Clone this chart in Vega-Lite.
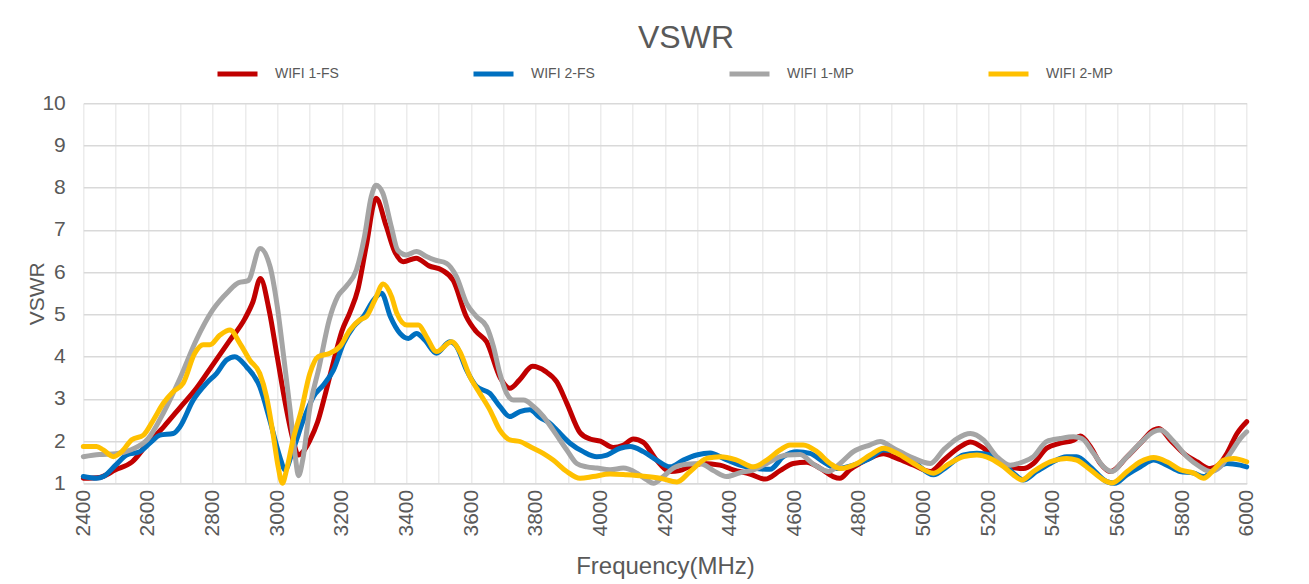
{
  "$schema": "https://vega.github.io/schema/vega-lite/v6.json",
  "width": 1163.4,
  "height": 380,
  "autosize": {"type": "none"},
  "padding": {"left": 83.3, "top": 103.3, "right": 62.3, "bottom": 100.7},
  "background": "white",
  "config": {
    "font": "Liberation Sans",
    "view": {"stroke": null}
  },
  "title": {"text": "VSWR", "fontSize": 32, "fontWeight": "normal", "color": "#595959", "anchor": "middle", "dx": 21, "offset": -4},
  "encoding": {
    "x": {"field": "f", "type": "quantitative",
      "scale": {"domain": [2400, 6000], "nice": false, "zero": false},
      "axis": {"values": [2400,2500,2600,2700,2800,2900,3000,3100,3200,3300,3400,3500,3600,3700,3800,3900,4000,4100,4200,4300,4400,4500,4600,4700,4800,4900,5000,5100,5200,5300,5400,5500,5600,5700,5800,5900,6000],
        "labelExpr": "datum.value % 200 === 0 ? datum.label : ''", "format": "d",
        "labelAngle": -90, "labelFontSize": 21, "labelColor": "#595959", "labelPadding": 6,
        "title": "Frequency(MHz)", "titleFontSize": 24, "titleFontWeight": "normal", "titleColor": "#595959", "titlePadding": 18,
        "grid": true, "gridColor": "#ececec", "gridWidth": 1.5, "ticks": false,
        "domainColor": "#d9d9d9", "domainWidth": 1.5}},
    "y": {"field": "v", "type": "quantitative",
      "scale": {"domain": [1, 10], "nice": false, "zero": false},
      "axis": {"values": [1,2,3,4,5,6,7,8,9,10],
        "labelFontSize": 21, "labelColor": "#595959", "labelPadding": 18,
        "title": "VSWR", "titleFontSize": 21, "titleFontWeight": "normal", "titleColor": "#595959", "titlePadding": -6,
        "grid": true, "gridColor": "#d9d9d9", "gridWidth": 1.5, "ticks": false, "domain": false}}
  },
  "layer": [
    {
      "data": {"values": [
        {"f":2400,"v":1.12},{"f":2450,"v":1.14},{"f":2500,"v":1.32},{"f":2550,"v":1.5},{"f":2600,"v":1.95},{"f":2650,"v":2.35},{"f":2700,"v":2.8},{"f":2750,"v":3.25},{"f":2800,"v":3.8},{"f":2850,"v":4.35},{"f":2900,"v":4.9},{"f":2925,"v":5.3},{"f":2948,"v":5.85},{"f":2975,"v":5.1},{"f":3000,"v":4.0},{"f":3025,"v":2.9},{"f":3050,"v":2.0},{"f":3065,"v":1.67},{"f":3080,"v":1.75},{"f":3100,"v":2.0},{"f":3125,"v":2.45},{"f":3150,"v":3.15},{"f":3175,"v":3.9},{"f":3200,"v":4.6},{"f":3225,"v":5.05},{"f":3250,"v":5.6},{"f":3275,"v":6.6},{"f":3306,"v":7.75},{"f":3337,"v":7.1},{"f":3363,"v":6.5},{"f":3390,"v":6.25},{"f":3430,"v":6.33},{"f":3470,"v":6.15},{"f":3510,"v":6.05},{"f":3545,"v":5.8},{"f":3585,"v":4.95},{"f":3615,"v":4.6},{"f":3648,"v":4.35},{"f":3690,"v":3.5},{"f":3720,"v":3.25},{"f":3750,"v":3.45},{"f":3790,"v":3.77},{"f":3830,"v":3.65},{"f":3865,"v":3.4},{"f":3896,"v":2.9},{"f":3937,"v":2.2},{"f":3968,"v":2.05},{"f":4000,"v":2.0},{"f":4040,"v":1.85},{"f":4070,"v":1.9},{"f":4102,"v":2.05},{"f":4133,"v":1.97},{"f":4174,"v":1.55},{"f":4216,"v":1.28},{"f":4245,"v":1.3},{"f":4277,"v":1.4},{"f":4318,"v":1.47},{"f":4370,"v":1.43},{"f":4411,"v":1.32},{"f":4463,"v":1.22},{"f":4510,"v":1.1},{"f":4556,"v":1.3},{"f":4597,"v":1.47},{"f":4638,"v":1.5},{"f":4679,"v":1.36},{"f":4720,"v":1.16},{"f":4741,"v":1.12},{"f":4772,"v":1.32},{"f":4803,"v":1.47},{"f":4835,"v":1.6},{"f":4876,"v":1.7},{"f":4918,"v":1.59},{"f":4970,"v":1.43},{"f":5021,"v":1.28},{"f":5062,"v":1.55},{"f":5114,"v":1.87},{"f":5145,"v":1.98},{"f":5186,"v":1.83},{"f":5227,"v":1.55},{"f":5269,"v":1.39},{"f":5309,"v":1.35},{"f":5340,"v":1.47},{"f":5381,"v":1.83},{"f":5423,"v":1.95},{"f":5464,"v":2.02},{"f":5485,"v":2.12},{"f":5516,"v":1.87},{"f":5547,"v":1.47},{"f":5578,"v":1.28},{"f":5630,"v":1.63},{"f":5671,"v":1.95},{"f":5712,"v":2.26},{"f":5728,"v":2.3},{"f":5764,"v":2.02},{"f":5805,"v":1.71},{"f":5846,"v":1.51},{"f":5887,"v":1.35},{"f":5915,"v":1.45},{"f":5939,"v":1.71},{"f":5970,"v":2.18},{"f":6000,"v":2.46}
      ]},
      "mark": {"type": "line", "interpolate": "monotone", "strokeWidth": 5, "strokeCap": "round", "strokeJoin": "round"},
      "encoding": {"color": {"datum": "WIFI 1-FS", "type": "nominal",
        "scale": {"domain": ["WIFI 1-FS", "WIFI 2-FS", "WIFI 1-MP", "WIFI 2-MP"], "range": ["#C00000", "#0070C0", "#A5A5A5", "#FFC000"]},
        "legend": {"title": null, "orient": "none", "legendX": 131.7, "legendY": -52, "direction": "horizontal", "columns": 4, "columnPadding": 124,
          "symbolType": "stroke", "symbolSize": 1600, "symbolStrokeWidth": 5, "labelFontSize": 14, "labelColor": "#595959", "labelOffset": 15}}}
    },
    {
      "data": {"values": [
        {"f":2400,"v":1.16},{"f":2441,"v":1.12},{"f":2462,"v":1.16},{"f":2500,"v":1.43},{"f":2534,"v":1.67},{"f":2575,"v":1.75},{"f":2606,"v":1.95},{"f":2637,"v":2.14},{"f":2678,"v":2.18},{"f":2699,"v":2.34},{"f":2740,"v":2.97},{"f":2781,"v":3.37},{"f":2812,"v":3.6},{"f":2843,"v":3.92},{"f":2869,"v":4.0},{"f":2905,"v":3.76},{"f":2946,"v":3.29},{"f":2977,"v":2.5},{"f":3008,"v":1.63},{"f":3024,"v":1.32},{"f":3049,"v":1.79},{"f":3081,"v":2.5},{"f":3112,"v":3.05},{"f":3143,"v":3.33},{"f":3174,"v":3.68},{"f":3205,"v":4.31},{"f":3236,"v":4.71},{"f":3267,"v":4.95},{"f":3298,"v":5.34},{"f":3323,"v":5.5},{"f":3350,"v":4.95},{"f":3380,"v":4.55},{"f":3406,"v":4.43},{"f":3431,"v":4.55},{"f":3457,"v":4.39},{"f":3493,"v":4.08},{"f":3534,"v":4.35},{"f":3555,"v":4.24},{"f":3586,"v":3.68},{"f":3617,"v":3.29},{"f":3658,"v":3.13},{"f":3689,"v":2.82},{"f":3720,"v":2.58},{"f":3751,"v":2.7},{"f":3782,"v":2.74},{"f":3813,"v":2.56},{"f":3844,"v":2.42},{"f":3865,"v":2.26},{"f":3906,"v":1.95},{"f":3947,"v":1.75},{"f":3989,"v":1.63},{"f":4020,"v":1.67},{"f":4061,"v":1.83},{"f":4092,"v":1.87},{"f":4133,"v":1.75},{"f":4174,"v":1.55},{"f":4216,"v":1.39},{"f":4257,"v":1.55},{"f":4298,"v":1.67},{"f":4340,"v":1.72},{"f":4381,"v":1.59},{"f":4432,"v":1.43},{"f":4473,"v":1.36},{"f":4525,"v":1.33},{"f":4566,"v":1.63},{"f":4608,"v":1.75},{"f":4649,"v":1.71},{"f":4690,"v":1.51},{"f":4732,"v":1.35},{"f":4783,"v":1.43},{"f":4835,"v":1.59},{"f":4876,"v":1.79},{"f":4918,"v":1.75},{"f":4970,"v":1.51},{"f":5031,"v":1.2},{"f":5072,"v":1.39},{"f":5124,"v":1.67},{"f":5165,"v":1.71},{"f":5206,"v":1.67},{"f":5248,"v":1.45},{"f":5278,"v":1.24},{"f":5309,"v":1.08},{"f":5350,"v":1.28},{"f":5392,"v":1.47},{"f":5443,"v":1.63},{"f":5474,"v":1.63},{"f":5516,"v":1.39},{"f":5567,"v":1.04},{"f":5592,"v":1.0},{"f":5629,"v":1.2},{"f":5671,"v":1.39},{"f":5712,"v":1.55},{"f":5753,"v":1.43},{"f":5794,"v":1.28},{"f":5836,"v":1.24},{"f":5867,"v":1.16},{"f":5898,"v":1.32},{"f":5939,"v":1.47},{"f":5980,"v":1.43},{"f":6000,"v":1.39}
      ]},
      "mark": {"type": "line", "interpolate": "monotone", "strokeWidth": 5, "strokeCap": "round", "strokeJoin": "round"},
      "encoding": {"color": {"datum": "WIFI 2-FS", "type": "nominal"}}
    },
    {
      "data": {"values": [
        {"f":2400,"v":1.63},{"f":2450,"v":1.68},{"f":2500,"v":1.7},{"f":2550,"v":1.8},{"f":2600,"v":2.05},{"f":2650,"v":2.7},{"f":2700,"v":3.5},{"f":2750,"v":4.4},{"f":2800,"v":5.1},{"f":2850,"v":5.55},{"f":2880,"v":5.75},{"f":2910,"v":5.8},{"f":2947,"v":6.56},{"f":2978,"v":6.13},{"f":3000,"v":5.2},{"f":3020,"v":4.0},{"f":3040,"v":2.74},{"f":3056,"v":1.63},{"f":3066,"v":1.18},{"f":3080,"v":1.6},{"f":3100,"v":2.74},{"f":3130,"v":3.76},{"f":3161,"v":4.87},{"f":3187,"v":5.42},{"f":3213,"v":5.66},{"f":3245,"v":6.05},{"f":3270,"v":6.84},{"f":3291,"v":7.79},{"f":3306,"v":8.06},{"f":3327,"v":7.87},{"f":3353,"v":7.08},{"f":3373,"v":6.52},{"f":3399,"v":6.41},{"f":3431,"v":6.49},{"f":3462,"v":6.37},{"f":3487,"v":6.29},{"f":3524,"v":6.21},{"f":3555,"v":5.89},{"f":3586,"v":5.26},{"f":3617,"v":4.95},{"f":3648,"v":4.71},{"f":3669,"v":4.24},{"f":3689,"v":3.6},{"f":3710,"v":3.13},{"f":3731,"v":2.97},{"f":3762,"v":2.97},{"f":3793,"v":2.82},{"f":3824,"v":2.58},{"f":3854,"v":2.26},{"f":3896,"v":1.79},{"f":3927,"v":1.47},{"f":3958,"v":1.39},{"f":3989,"v":1.36},{"f":4030,"v":1.32},{"f":4071,"v":1.36},{"f":4113,"v":1.24},{"f":4144,"v":1.08},{"f":4164,"v":1.0},{"f":4195,"v":1.16},{"f":4226,"v":1.36},{"f":4267,"v":1.45},{"f":4309,"v":1.47},{"f":4350,"v":1.3},{"f":4391,"v":1.16},{"f":4432,"v":1.25},{"f":4474,"v":1.32},{"f":4515,"v":1.47},{"f":4556,"v":1.63},{"f":4577,"v":1.67},{"f":4618,"v":1.68},{"f":4660,"v":1.45},{"f":4706,"v":1.28},{"f":4742,"v":1.47},{"f":4783,"v":1.75},{"f":4835,"v":1.91},{"f":4866,"v":1.99},{"f":4907,"v":1.83},{"f":4959,"v":1.63},{"f":5021,"v":1.47},{"f":5062,"v":1.79},{"f":5104,"v":2.06},{"f":5145,"v":2.18},{"f":5186,"v":2.02},{"f":5227,"v":1.63},{"f":5268,"v":1.43},{"f":5309,"v":1.51},{"f":5340,"v":1.63},{"f":5381,"v":1.99},{"f":5423,"v":2.06},{"f":5464,"v":2.1},{"f":5490,"v":2.06},{"f":5526,"v":1.71},{"f":5557,"v":1.39},{"f":5583,"v":1.28},{"f":5620,"v":1.55},{"f":5671,"v":1.95},{"f":5712,"v":2.22},{"f":5733,"v":2.26},{"f":5774,"v":1.99},{"f":5815,"v":1.63},{"f":5856,"v":1.39},{"f":5887,"v":1.28},{"f":5918,"v":1.39},{"f":5949,"v":1.71},{"f":5980,"v":2.06},{"f":6000,"v":2.22}
      ]},
      "mark": {"type": "line", "interpolate": "monotone", "strokeWidth": 5, "strokeCap": "round", "strokeJoin": "round"},
      "encoding": {"color": {"datum": "WIFI 1-MP", "type": "nominal"}}
    },
    {
      "data": {"values": [
        {"f":2400,"v":1.87},{"f":2441,"v":1.87},{"f":2462,"v":1.79},{"f":2493,"v":1.63},{"f":2519,"v":1.75},{"f":2550,"v":2.03},{"f":2586,"v":2.14},{"f":2617,"v":2.5},{"f":2647,"v":2.89},{"f":2678,"v":3.17},{"f":2709,"v":3.37},{"f":2745,"v":4.08},{"f":2771,"v":4.28},{"f":2792,"v":4.28},{"f":2823,"v":4.51},{"f":2854,"v":4.63},{"f":2885,"v":4.31},{"f":2915,"v":3.92},{"f":2946,"v":3.6},{"f":2967,"v":3.05},{"f":2987,"v":2.18},{"f":3003,"v":1.39},{"f":3016,"v":1.0},{"f":3029,"v":1.32},{"f":3049,"v":2.03},{"f":3075,"v":2.74},{"f":3101,"v":3.6},{"f":3127,"v":4.0},{"f":3163,"v":4.08},{"f":3194,"v":4.24},{"f":3225,"v":4.63},{"f":3256,"v":4.87},{"f":3276,"v":4.95},{"f":3302,"v":5.34},{"f":3328,"v":5.72},{"f":3354,"v":5.42},{"f":3370,"v":5.03},{"f":3401,"v":4.75},{"f":3437,"v":4.75},{"f":3462,"v":4.47},{"f":3493,"v":4.12},{"f":3540,"v":4.35},{"f":3565,"v":4.12},{"f":3596,"v":3.53},{"f":3627,"v":3.13},{"f":3658,"v":2.74},{"f":3689,"v":2.26},{"f":3720,"v":2.03},{"f":3751,"v":1.99},{"f":3782,"v":1.87},{"f":3823,"v":1.71},{"f":3854,"v":1.55},{"f":3896,"v":1.28},{"f":3937,"v":1.12},{"f":3978,"v":1.16},{"f":4030,"v":1.22},{"f":4082,"v":1.2},{"f":4133,"v":1.17},{"f":4185,"v":1.12},{"f":4237,"v":1.03},{"f":4278,"v":1.28},{"f":4329,"v":1.59},{"f":4371,"v":1.63},{"f":4422,"v":1.55},{"f":4474,"v":1.39},{"f":4515,"v":1.55},{"f":4556,"v":1.79},{"f":4587,"v":1.91},{"f":4628,"v":1.91},{"f":4670,"v":1.75},{"f":4711,"v":1.47},{"f":4742,"v":1.35},{"f":4794,"v":1.47},{"f":4835,"v":1.67},{"f":4876,"v":1.83},{"f":4918,"v":1.71},{"f":4970,"v":1.47},{"f":5031,"v":1.24},{"f":5072,"v":1.43},{"f":5124,"v":1.63},{"f":5165,"v":1.67},{"f":5206,"v":1.59},{"f":5248,"v":1.39},{"f":5278,"v":1.2},{"f":5304,"v":1.08},{"f":5340,"v":1.28},{"f":5392,"v":1.51},{"f":5443,"v":1.59},{"f":5474,"v":1.55},{"f":5516,"v":1.32},{"f":5557,"v":1.08},{"f":5583,"v":1.01},{"f":5630,"v":1.28},{"f":5671,"v":1.51},{"f":5712,"v":1.61},{"f":5753,"v":1.51},{"f":5794,"v":1.32},{"f":5836,"v":1.24},{"f":5867,"v":1.12},{"f":5898,"v":1.32},{"f":5929,"v":1.55},{"f":5960,"v":1.59},{"f":6000,"v":1.51}
      ]},
      "mark": {"type": "line", "interpolate": "monotone", "strokeWidth": 5, "strokeCap": "round", "strokeJoin": "round"},
      "encoding": {"color": {"datum": "WIFI 2-MP", "type": "nominal"}}
    }
  ]
}
